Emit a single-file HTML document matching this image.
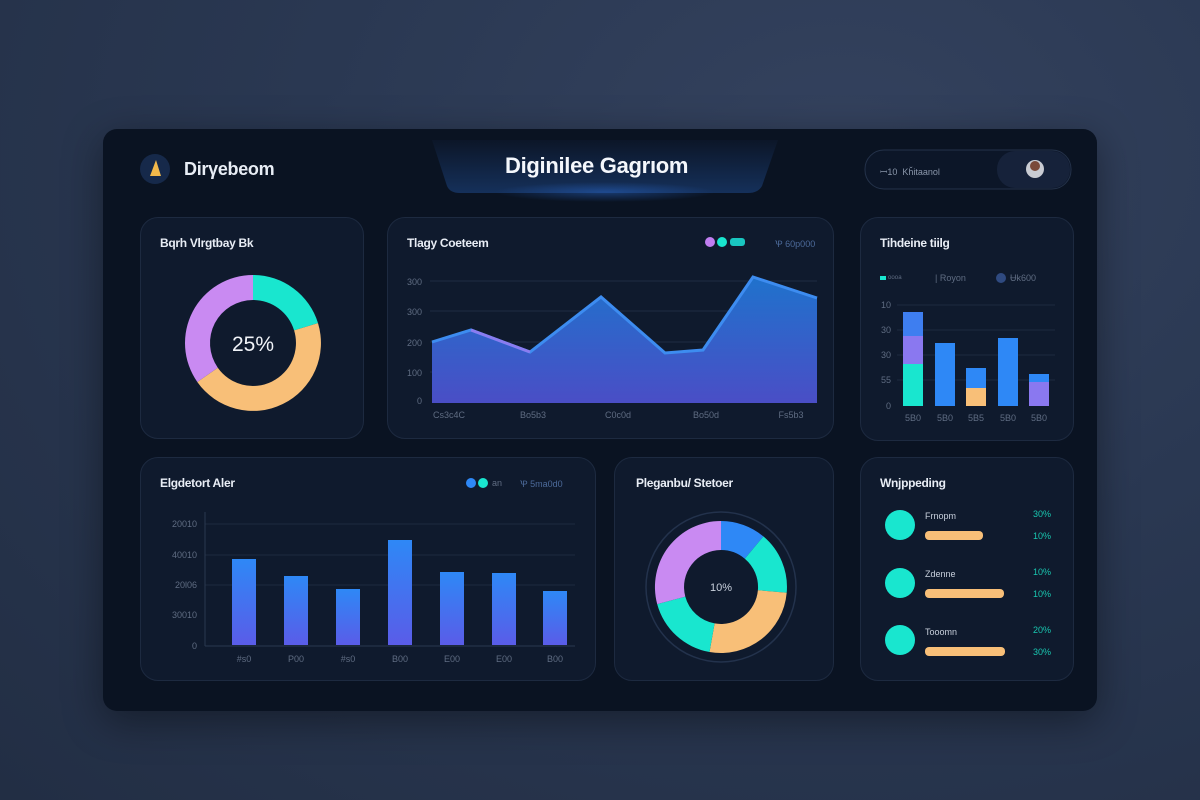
<!DOCTYPE html>
<html><head><meta charset="utf-8"><style>
body{margin:0;width:1200px;height:800px;overflow:hidden;background:radial-gradient(ellipse at 70% 20%,#34425e 0%,#2a3852 45%,#222e44 100%);font-family:"Liberation Sans",sans-serif;position:relative}
.main{position:absolute;left:103px;top:129px;width:994px;height:582px;background:#0a1322;border-radius:14px;box-shadow:0 10px 40px rgba(0,0,0,.4)}
.card{position:absolute;background:#0f1a2d;border:1px solid #1d2a40;border-radius:18px;box-sizing:border-box}
.t{position:absolute;color:#e8edf5;font-size:13px;font-weight:bold;letter-spacing:-0.3px}
.s{position:absolute;color:#6f7d95;font-size:9px}
</style></head><body>
<div class="main"></div>
<svg width="1200" height="800" style="position:absolute;left:0;top:0">
<defs>
<linearGradient id="tab" x1="0" y1="0" x2="0" y2="1"><stop offset="0" stop-color="#0c1628"/><stop offset="1" stop-color="#15305a"/></linearGradient>
<radialGradient id="glow" cx="0.5" cy="0.5" r="0.5"><stop offset="0" stop-color="#2a6ad0" stop-opacity=".45"/><stop offset="1" stop-color="#2a6ad0" stop-opacity="0"/></radialGradient>
<linearGradient id="area" x1="0" y1="0" x2="0" y2="1"><stop offset="0" stop-color="#1f72cc"/><stop offset="1" stop-color="#4a4ec6"/></linearGradient>
<linearGradient id="bar" x1="0" y1="0" x2="0" y2="1"><stop offset="0" stop-color="#2e88f6"/><stop offset="1" stop-color="#5a5ce8"/></linearGradient>
</defs>
<path d="M432 140 L778 140 L762 186 Q758 193 748 193 L460 193 Q450 193 447 186 Z" fill="url(#tab)"/>
<ellipse cx="605" cy="192" rx="110" ry="10" fill="url(#glow)"/>
<circle cx="155" cy="169" r="15" fill="#16294a"/>
<path d="M150 176 L156 160 L161 176 Z" fill="#f2b84a"/>
<rect x="865" y="150" width="206" height="39" rx="19" fill="#0c1628" stroke="#24324a"/>
<rect x="997" y="151" width="73" height="37" rx="18" fill="#16223a"/>
<circle cx="1035" cy="169" r="9" fill="#c9ccd3"/><circle cx="1035" cy="166" r="5" fill="#7a4a3a"/>
</svg>
<div class="t" style="left:184px;top:159px;font-size:18px">Dirγebeom</div>
<div class="t" style="left:505px;top:153px;font-size:22px;color:#f4f7fc">Diginilee Gagrıom</div>
<div class="s" style="left:880px;top:165px;color:#8a96aa">ꟷ10 &nbsp;Kȟitaanol</div>

<div class="card" style="left:140px;top:217px;width:224px;height:222px"></div>
<div class="card" style="left:387px;top:217px;width:447px;height:222px"></div>
<div class="card" style="left:860px;top:217px;width:214px;height:224px"></div>
<div class="card" style="left:140px;top:457px;width:456px;height:224px"></div>
<div class="card" style="left:614px;top:457px;width:220px;height:224px"></div>
<div class="card" style="left:860px;top:457px;width:214px;height:224px"></div>

<div class="t" style="left:160px;top:236px;font-size:12px">Bqrh Vlrgtbay Bk</div>
<div class="t" style="left:407px;top:236px;font-size:12px">Tlagy Coeteem</div>
<div class="t" style="left:880px;top:236px;font-size:12px">Tihdeine tiilg</div>
<div class="t" style="left:160px;top:476px;font-size:12px">Elgdetort Aler</div>
<div class="t" style="left:636px;top:476px;font-size:12px">Pleganbu/ Stetoer</div>
<div class="t" style="left:880px;top:476px;font-size:12px">Wnjppeding</div>
<div class="s" style="left:775px;top:237px;color:#4c6a9a">Ꝕ 60p000</div>
<div class="s" style="left:520px;top:477px;color:#4c6a9a">Ꝕ 5ma0d0</div>

<svg width="1200" height="800" style="position:absolute;left:0;top:0" font-family="Liberation Sans" font-size="9" fill="#5f6c82">
<g transform="translate(253,343)">
<path d="M0 -68 A68 68 0 0 1 65 -19.9 L41.1 -12.6 A43 43 0 0 0 0 -43Z" fill="#19e6cf"/>
<path d="M65 -19.9 A68 68 0 0 1 -55.7 39 L-35.2 24.7 A43 43 0 0 0 41.1 -12.6Z" fill="#f8bf78"/>
<path d="M-55.7 39 A68 68 0 0 1 0 -68 L0 -43 A43 43 0 0 0 -35.2 24.7Z" fill="#c98af2"/>
<text x="0" y="8" text-anchor="middle" font-size="21" fill="#f0f3f8">25%</text>
</g>
<circle cx="710" cy="242" r="5" fill="#c07ef0"/><circle cx="722" cy="242" r="5" fill="#19e6cf"/><rect x="730" y="238" width="15" height="8" rx="3" fill="#19c6c0"/>
<circle cx="471" cy="483" r="5" fill="#2e88f6"/><circle cx="483" cy="483" r="5" fill="#19e6cf"/><text x="492" y="486">an</text>
<g stroke="#1f2c42"><line x1="430" y1="281" x2="817" y2="281"/><line x1="430" y1="311" x2="817" y2="311"/><line x1="430" y1="342" x2="817" y2="342"/><line x1="430" y1="372" x2="817" y2="372"/></g>
<path d="M432 342 L471 330 L530 352 L601 297 L665 353 L703 350 L753 277 L817 298 L817 403 L432 403Z" fill="url(#area)"/>
<polyline points="432,342 471,330 530,352 601,297 665,353 703,350 753,277 817,298" fill="none" stroke="#3d8cf0" stroke-width="3"/>
<polyline points="471,330 530,352" fill="none" stroke="#8a7cf0" stroke-width="3"/>
<g text-anchor="end"><text x="422" y="285">300</text><text x="422" y="315">300</text><text x="422" y="346">200</text><text x="422" y="376">100</text><text x="422" y="404">0</text></g>
<g text-anchor="middle"><text x="449" y="418">Cs3c4C</text><text x="533" y="418">Bo5b3</text><text x="618" y="418">C0c0d</text><text x="706" y="418">Bo50d</text><text x="791" y="418">Fs5b3</text></g>
<rect x="880" y="276" width="6" height="4" fill="#19e6cf"/><text x="888" y="281">ᵒᵒᵒᵃ</text><text x="935" y="281">| Royon</text><circle cx="1001" cy="278" r="5" fill="#2f4a80"/><text x="1010" y="281">Ʉk600</text>
<g stroke="#1c2a40"><line x1="897" y1="305" x2="1055" y2="305"/><line x1="897" y1="330" x2="1055" y2="330"/><line x1="897" y1="355" x2="1055" y2="355"/><line x1="897" y1="380" x2="1055" y2="380"/></g>
<g text-anchor="end"><text x="891" y="308">10</text><text x="891" y="333">30</text><text x="891" y="358">30</text><text x="891" y="383">55</text><text x="891" y="409">0</text></g>
<rect x="903" y="312" width="20" height="24" fill="#3e7ef0"/><rect x="903" y="336" width="20" height="28" fill="#8a78f0"/><rect x="903" y="364" width="20" height="42" fill="#19e6cf"/>
<rect x="935" y="343" width="20" height="63" fill="#2e88f6"/>
<rect x="966" y="368" width="20" height="20" fill="#2e88f6"/><rect x="966" y="388" width="20" height="18" fill="#f8bf78"/>
<rect x="998" y="338" width="20" height="68" fill="#2e88f6"/>
<rect x="1029" y="374" width="20" height="8" fill="#2e88f6"/><rect x="1029" y="382" width="20" height="24" fill="#8a78f0"/>
<g text-anchor="middle"><text x="913" y="421">5B0</text><text x="945" y="421">5B0</text><text x="976" y="421">5B5</text><text x="1008" y="421">5B0</text><text x="1039" y="421">5B0</text></g>
<g stroke="#1c2a40"><line x1="205" y1="524" x2="575" y2="524"/><line x1="205" y1="555" x2="575" y2="555"/><line x1="205" y1="585" x2="575" y2="585"/><line x1="205" y1="646" x2="575" y2="646" stroke="#2a3850"/><line x1="205" y1="512" x2="205" y2="646" stroke="#2a3850"/></g>
<g text-anchor="end"><text x="197" y="527">20010</text><text x="197" y="558">40010</text><text x="197" y="588">20l06</text><text x="197" y="618">30010</text><text x="197" y="649">0</text></g>
<rect x="232" y="559" width="24" height="86" fill="url(#bar)"/><rect x="284" y="576" width="24" height="69" fill="url(#bar)"/><rect x="336" y="589" width="24" height="56" fill="url(#bar)"/><rect x="388" y="540" width="24" height="105" fill="url(#bar)"/><rect x="440" y="572" width="24" height="73" fill="url(#bar)"/><rect x="492" y="573" width="24" height="72" fill="url(#bar)"/><rect x="543" y="591" width="24" height="54" fill="url(#bar)"/>
<g text-anchor="middle"><text x="244" y="662">#s0</text><text x="296" y="662">P00</text><text x="348" y="662">#s0</text><text x="400" y="662">B00</text><text x="452" y="662">E00</text><text x="504" y="662">E00</text><text x="555" y="662">B00</text></g>
<g transform="translate(721,587)">
<circle r="75" fill="none" stroke="#23324c" stroke-width="1.5"/>
<path d="M0 -66 A66 66 0 0 1 42.4 -50.6 L23.8 -28.3 A37 37 0 0 0 0 -37Z" fill="#2e88f6"/>
<path d="M42.4 -50.6 A66 66 0 0 1 65.7 5.8 L36.9 3.2 A37 37 0 0 0 23.8 -28.3Z" fill="#19e6cf"/>
<path d="M65.7 5.8 A66 66 0 0 1 -11.5 65 L-6.4 36.4 A37 37 0 0 0 36.9 3.2Z" fill="#f8bf78"/>
<path d="M-11.5 65 A66 66 0 0 1 -63.8 17.1 L-35.7 9.6 A37 37 0 0 0 -6.4 36.4Z" fill="#19e6cf"/>
<path d="M-63.8 17.1 A66 66 0 0 1 0 -66 L0 -37 A37 37 0 0 0 -35.7 9.6Z" fill="#c98af2"/>
<text x="0" y="4" text-anchor="middle" font-size="11" fill="#c8d0dc">10%</text>
</g>
<g fill="#19e6cf"><circle cx="900" cy="525" r="15"/><circle cx="900" cy="583" r="15"/><circle cx="900" cy="640" r="15"/></g>
<g fill="#f8bf78"><rect x="925" y="531" width="58" height="9" rx="4"/><rect x="925" y="589" width="79" height="9" rx="4"/><rect x="925" y="647" width="80" height="9" rx="4"/></g>
<g fill="#c8d0dc"><text x="925" y="519">Frnopm</text><text x="925" y="577">Zdenne</text><text x="925" y="635">Tooomn</text></g>
<g fill="#19c6b0" text-anchor="end"><text x="1051" y="517">30%</text><text x="1051" y="539">10%</text><text x="1051" y="575">10%</text><text x="1051" y="597">10%</text><text x="1051" y="633">20%</text><text x="1051" y="655">30%</text></g>
</svg>
</body></html>
